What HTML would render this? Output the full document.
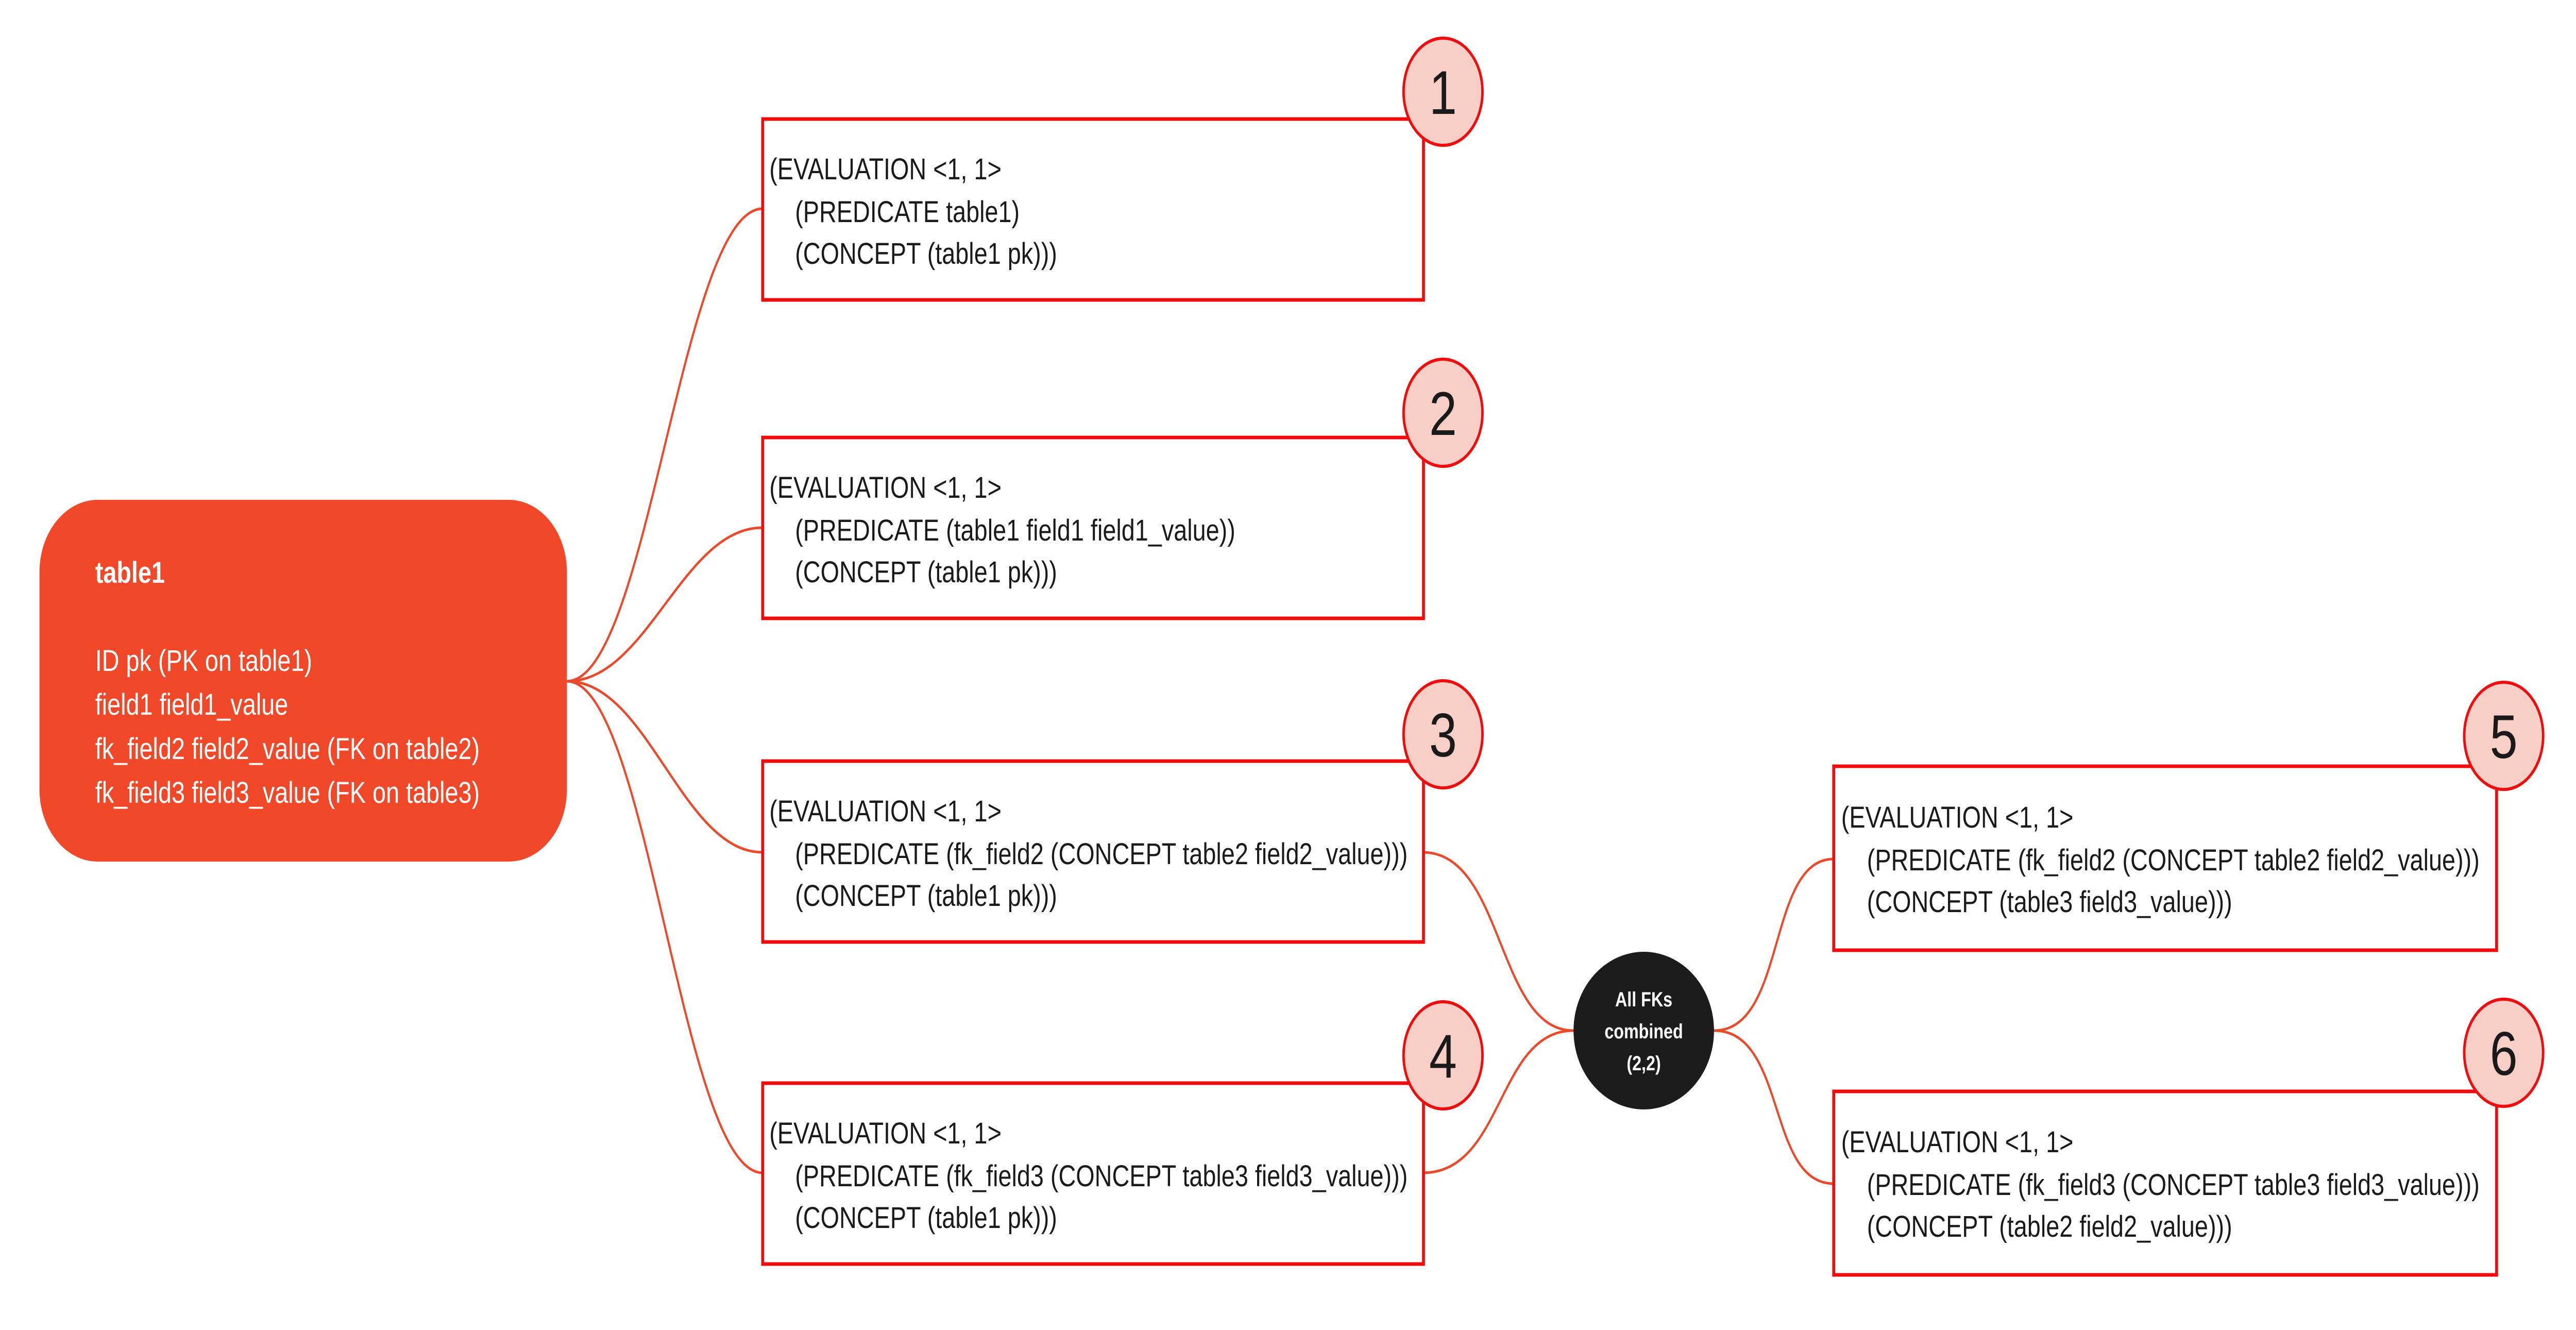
<!DOCTYPE html>
<html><head><meta charset="utf-8"><style>
html,body{margin:0;padding:0;background:#fff;width:100%;height:100%;overflow:hidden}
svg{display:block;width:100vw;height:100vh}
text{font-family:"Liberation Sans",sans-serif}
.t{font-size:58px;fill:#1a1a1a}
.w{font-size:58px;fill:#fff}
.n{font-size:120px;fill:#1a1a1a;text-anchor:middle}
</style></head><body>
<svg viewBox="0 0 6198 2581" preserveAspectRatio="none" xmlns="http://www.w3.org/2000/svg">
<g fill="none" stroke="#ea4a2a" stroke-width="5">
<path d="M1364 1322 C1560 1322 1640 405 1835 405"/>
<path d="M1364 1322 C1560 1322 1640 1024 1835 1024"/>
<path d="M1364 1322 C1560 1322 1640 1654 1835 1654"/>
<path d="M1364 1322 C1560 1322 1640 2276 1835 2276"/>
<path d="M3423 1654 C3620 1654 3600 2000 3786 2000"/>
<path d="M3423 2276 C3620 2276 3600 2000 3786 2000"/>
<path d="M4124 2000 C4300 2000 4250 1667 4412 1667"/>
<path d="M4124 2000 C4300 2000 4250 2297 4412 2297"/>
</g>
<rect x="95" y="970" width="1269" height="702" rx="140" fill="#f04828"/>
<text class="w" x="229" y="1131" font-weight="bold">table1</text>
<text class="w" x="229" y="1302">ID pk (PK on table1)</text>
<text class="w" x="229" y="1387">field1 field1_value</text>
<text class="w" x="229" y="1473">fk_field2 field2_value (FK on table2)</text>
<text class="w" x="229" y="1558">fk_field3 field3_value (FK on table3)</text>
<g fill="#fff" stroke="#ee0c0c" stroke-width="7">
<rect x="1835" y="231" width="1590" height="351"/>
<rect x="1835" y="849" width="1590" height="351"/>
<rect x="1835" y="1477" width="1590" height="351"/>
<rect x="1835" y="2102" width="1590" height="351"/>
<rect x="4412" y="1487" width="1595" height="357"/>
<rect x="4412" y="2118" width="1595" height="356"/>
</g>
<g class="t">
<text class="t" x="1851" y="348">(EVALUATION &lt;1, 1&gt;</text>
<text class="t" x="1913" y="431">(PREDICATE table1)</text>
<text class="t" x="1913" y="512">(CONCEPT (table1 pk)))</text>
<text class="t" x="1851" y="966">(EVALUATION &lt;1, 1&gt;</text>
<text class="t" x="1913" y="1049">(PREDICATE (table1 field1 field1_value))</text>
<text class="t" x="1913" y="1130">(CONCEPT (table1 pk)))</text>
<text class="t" x="1851" y="1594">(EVALUATION &lt;1, 1&gt;</text>
<text class="t" x="1913" y="1677">(PREDICATE (fk_field2 (CONCEPT table2 field2_value)))</text>
<text class="t" x="1913" y="1758">(CONCEPT (table1 pk)))</text>
<text class="t" x="1851" y="2219">(EVALUATION &lt;1, 1&gt;</text>
<text class="t" x="1913" y="2302">(PREDICATE (fk_field3 (CONCEPT table3 field3_value)))</text>
<text class="t" x="1913" y="2383">(CONCEPT (table1 pk)))</text>
<text class="t" x="4430" y="1606">(EVALUATION &lt;1, 1&gt;</text>
<text class="t" x="4492" y="1689">(PREDICATE (fk_field2 (CONCEPT table2 field2_value)))</text>
<text class="t" x="4492" y="1770">(CONCEPT (table3 field3_value)))</text>
<text class="t" x="4430" y="2236">(EVALUATION &lt;1, 1&gt;</text>
<text class="t" x="4492" y="2319">(PREDICATE (fk_field3 (CONCEPT table3 field3_value)))</text>
<text class="t" x="4492" y="2400">(CONCEPT (table2 field2_value)))</text>
</g>
<g fill="#f8cfc7" stroke="#ee0c0c" stroke-width="6">
<ellipse cx="3472" cy="178" rx="95" ry="104"/>
<ellipse cx="3472" cy="801" rx="95" ry="104"/>
<ellipse cx="3472" cy="1425" rx="95" ry="104"/>
<ellipse cx="3472" cy="2048" rx="95" ry="104"/>
<ellipse cx="6024" cy="1428" rx="95" ry="104"/>
<ellipse cx="6024" cy="2043" rx="95" ry="104"/>
</g>
<text class="n" x="3472" y="221">1</text>
<text class="n" x="3472" y="844">2</text>
<text class="n" x="3472" y="1468">3</text>
<text class="n" x="3472" y="2091">4</text>
<text class="n" x="6024" y="1471">5</text>
<text class="n" x="6024" y="2086">6</text>
<ellipse cx="3955" cy="2000" rx="169" ry="153" fill="#1c1c1c"/>
<g fill="#fff" font-weight="bold" font-size="40" text-anchor="middle">
<text x="3955" y="1953">All FKs</text>
<text x="3955" y="2015">combined</text>
<text x="3955" y="2077">(2,2)</text>
</g>
</svg>
</body></html>
